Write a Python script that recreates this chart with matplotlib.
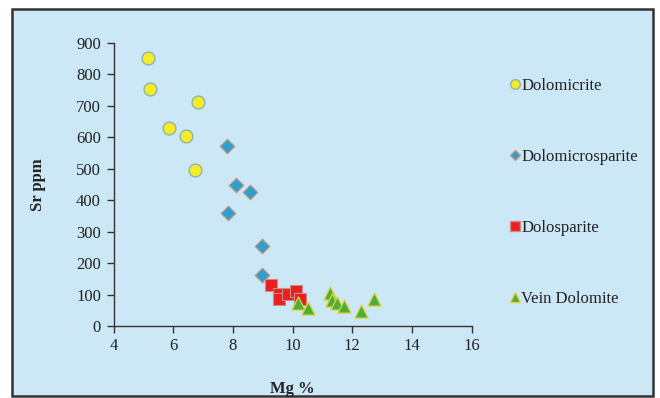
import matplotlib.pyplot as plt
from matplotlib.patches import Rectangle
from matplotlib.lines import Line2D

plt.rcParams['font.family'] = ['Liberation Serif', 'DejaVu Serif']

# Mg % and Sr ppm for each dolomite type
dolomicrite_mg = [5.14, 5.24, 5.85, 6.42, 6.82, 6.72]
dolomicrite_sr = [852, 754, 630, 604, 712, 496]

microsparite_mg = [7.80, 8.10, 8.57, 7.83, 8.97, 8.97]
microsparite_sr = [572, 450, 425, 358, 254, 162]

dolosparite_mg = [9.27, 9.54, 9.56, 9.84, 10.11, 10.25]
dolosparite_sr = [131, 101, 86, 102, 112, 86]

vein_mg = [10.19, 10.51, 11.26, 11.34, 11.49, 11.71, 12.28, 12.73]
vein_sr = [72, 56, 106, 83, 74, 64, 48, 86]

series_names = ['Dolomicrite', 'Dolomicrosparite', 'Dolosparite', 'Vein Dolomite']

bg = '#cce8f7'
fig = plt.figure(figsize=(6.6, 3.98), dpi=100)
fig.patch.set_facecolor('white')

# framed panel behind the plot
W, H = 660.0, 398.0
frame = Rectangle((12 / W, (H - 396) / H), 641 / W, 387 / H,
                  transform=fig.transFigure, facecolor=bg,
                  edgecolor='#333333', linewidth=1.8, zorder=-5)
fig.patches.append(frame)

ax = fig.add_axes([113.5 / W, (H - 326) / H, 358 / W, 283 / H])
ax.set_facecolor('none')
ax.set_zorder(2)

ax.scatter(dolomicrite_mg, dolomicrite_sr, marker='o', s=85,
           facecolor='#f4ec2a', edgecolor='#8fb5a8', linewidth=1.0, zorder=3)
ax.scatter(microsparite_mg, microsparite_sr, marker='D', s=55,
           facecolor='#2f9fd0', edgecolor='#c8957a', linewidth=0.8, zorder=3)
ax.scatter(dolosparite_mg, dolosparite_sr, marker='s', s=72,
           facecolor='#e8201e', edgecolor='#d08a8a', linewidth=0.8, zorder=3)
ax.scatter(vein_mg, vein_sr, marker='^', s=90,
           facecolor='#4cae3c', edgecolor='#e3d23a', linewidth=0.9, zorder=4)

ax.set_xlim(4, 16)
ax.set_ylim(0, 900)
ax.set_xticks(range(4, 17, 2))
ax.set_yticks(range(0, 901, 100))

for side in ['top', 'right']:
    ax.spines[side].set_visible(False)
for side in ['left', 'bottom']:
    ax.spines[side].set_color('#333333')
    ax.spines[side].set_linewidth(1.0)

ax.tick_params(axis='both', direction='out', length=5, width=1.0,
               color='#333333', labelsize=12, labelcolor='#222222')
ax.tick_params(axis='y', pad=4)
ax.tick_params(axis='x', pad=4)

ax.set_xlabel('Mg %', fontsize=12, fontweight='bold', labelpad=19, color='#222222')
ax.set_ylabel('Sr ppm', fontsize=12, fontweight='bold', labelpad=22, color='#222222')

# legend entries spaced down the right side
handles = [
    Line2D([], [], linestyle='none', marker='o', markersize=7,
           markerfacecolor='#f4ec2a', markeredgecolor='#8fb5a8'),
    Line2D([], [], linestyle='none', marker='D', markersize=5,
           markerfacecolor='#2f9fd0', markeredgecolor='#c8957a'),
    Line2D([], [], linestyle='none', marker='s', markersize=6.5,
           markerfacecolor='#e8201e', markeredgecolor='#d08a8a'),
    Line2D([], [], linestyle='none', marker='^', markersize=7,
           markerfacecolor='#4cae3c', markeredgecolor='#e3d23a'),
]
leg = fig.legend(handles, series_names, loc='upper left',
                 bbox_to_anchor=(503 / W, (H - 71) / H),
                 frameon=False, fontsize=12, handlelength=0.6,
                 handletextpad=0.1, labelspacing=3.3, borderaxespad=0)
for t in leg.get_texts():
    t.set_color('#222222')

fig.savefig('out.png', dpi=100, facecolor='white')
